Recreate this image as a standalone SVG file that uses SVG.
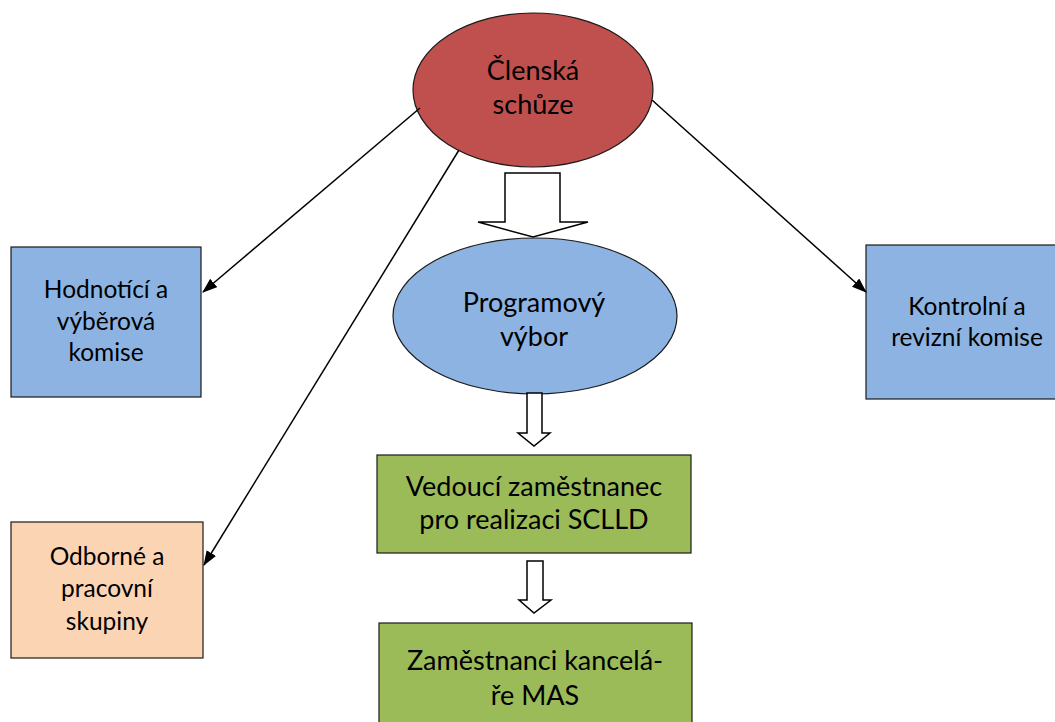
<svg xmlns="http://www.w3.org/2000/svg" width="1055" height="722" viewBox="0 0 1055 722">
<style>
text{font-family:Lato,"Open Sans","Liberation Sans",sans-serif;fill:#000;text-anchor:middle}
.big{font-size:27px}
.side{font-size:24.5px}
.shape{stroke:#1a1a1a;stroke-width:1.2}
.red{fill:#C0504D}
.blue{fill:#8DB3E2}
.green{fill:#9BBB59}
.peach{fill:#FBD4B4}
.line{stroke:#000;stroke-width:1.5;fill:none;marker-end:url(#ah)}
.block{fill:#fff;stroke:#000;stroke-width:1.5;stroke-linejoin:miter}
</style>
<defs>
<marker id="ah" markerWidth="15" markerHeight="11" refX="14" refY="5.5" orient="auto" markerUnits="userSpaceOnUse" viewBox="0 0 15 11">
<path d="M0,0 L15,5.5 L0,11 z" fill="#000"/>
</marker>
</defs>
<rect width="1055" height="722" fill="#fff"/>
<g id="node-hodnotici">
<rect class="shape blue" x="11" y="247" width="190" height="150"/>
<text class="side" x="106" y="298">Hodnotící a</text>
<text class="side" x="106" y="330">výběrová</text>
<text class="side" x="106" y="361">komise</text>
</g>
<g id="node-odborne">
<rect class="shape peach" x="11" y="522" width="192" height="136"/>
<text class="side" x="107" y="565">Odborné a</text>
<text class="side" x="107" y="597">pracovní</text>
<text class="side" x="107" y="630">skupiny</text>
</g>
<g id="node-kontrolni">
<rect class="shape blue" x="866" y="245" width="202" height="154"/>
<text class="side" x="967" y="315">Kontrolní a</text>
<text class="side" x="967" y="346">revizní komise</text>
</g>
<g id="node-clenska">
<ellipse class="shape red" cx="533" cy="90" rx="120" ry="77"/>
<text class="big" x="533" y="80">Členská</text>
<text class="big" x="533" y="114">schůze</text>
</g>
<g id="node-programovy">
<ellipse class="shape blue" cx="535" cy="316" rx="142" ry="78"/>
<text class="big" x="534" y="312">Programový</text>
<text class="big" x="534" y="346">výbor</text>
</g>
<g id="node-vedouci">
<rect class="shape green" x="377" y="455" width="314" height="98"/>
<text class="big" x="534" y="496">Vedoucí zaměstnanec</text>
<text class="big" x="534" y="529">pro realizaci SCLLD</text>
</g>
<g id="node-zamestnanci">
<rect class="shape green" x="379" y="623" width="313" height="110"/>
<text class="big" x="535" y="670">Zaměstnanci kancelá-</text>
<text class="big" x="535" y="705">ře MAS</text>
</g>
<g id="connectors">
<line class="line" x1="420" y1="108" x2="203" y2="292"/>
<line class="line" x1="459" y1="150" x2="204" y2="565"/>
<line class="line" x1="652" y1="100" x2="866" y2="292"/>
<polygon class="block" points="505,173 560,173 560,222 588,222 533,237 478,222 505,222"/>
<polygon class="block" points="527,393 542,393 542,433 550,433 534,446 518,433 527,433"/>
<polygon class="block" points="527,561 543,561 543,600 551,600 534,613 519,600 527,600"/>
</g>
</svg>
